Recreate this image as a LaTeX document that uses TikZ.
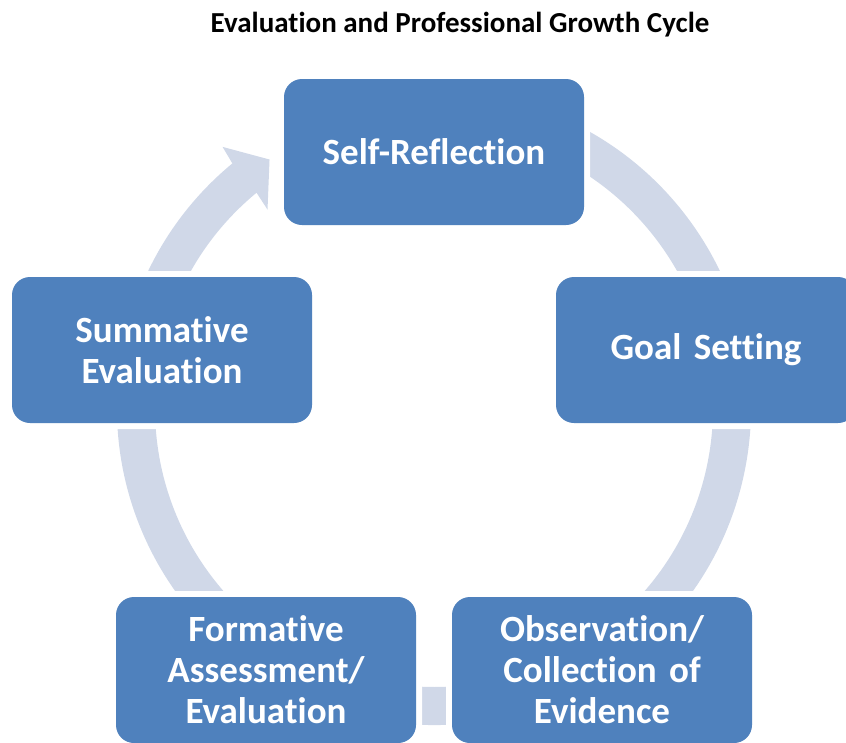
\documentclass[tikz,border=0pt]{standalone}
\usepackage{fontspec}
\setmainfont{Carlito}[Ligatures=NoCommon]
\usepackage{tikz}
\usetikzlibrary{positioning}
\definecolor{boxblue}{RGB}{79,129,189}
\definecolor{ringgrey}{RGB}{208,216,232}

\begin{document}
\begin{tikzpicture}[
                x=1pt, y=-1pt,
                stage/.style = {
                    rectangle,
                    rounded corners = 18pt,
                    preaction = {draw=white, line width=12pt},
                    fill = boxblue,
                    minimum width = 300pt,
                    minimum height = 146pt,
                    text width = 280pt,
                    align = center,
                    inner sep = 0pt,
                    text = white,
                    font = \bfseries\fontsize{37}{41}\selectfont
                },
                ring/.style = {
                    fill = ringgrey
                }
            ]
            \useasboundingbox (0,0) rectangle (846,742);
            \clip (0,0) rectangle (846,742);
            \node[font=\bfseries\fontsize{29}{33}\selectfont] (title) at (460,25) {Evaluation and Professional Growth Cycle};
            % 
            % circular arrow behind the stages
            \begin{scope}[shift={(434,408)}]
                \fill[ring] (-80:317) arc[start angle=-80, end angle=230.5, radius=317]
                    -- (231:336) -- (236.5:298) -- (230:259) -- (230.5:279)
                    arc[start angle=230.5, end angle=-80, radius=279] -- cycle;
            \end{scope}
            % 
            \node[stage] (self) at (434,152) {Self-Reflection};
            \node[stage] (goal) at (706,350) {Goal Setting};
            \node[stage] (obs) at (602,670) {Observation/\\Collection of\\Evidence};
            \node[stage] (form) at (266,670) {Formative\\Assessment/\\Evaluation};
            \node[stage] (summ) at (162,350) {Summative\\Evaluation};
            % 
        \end{tikzpicture}
\end{document}
